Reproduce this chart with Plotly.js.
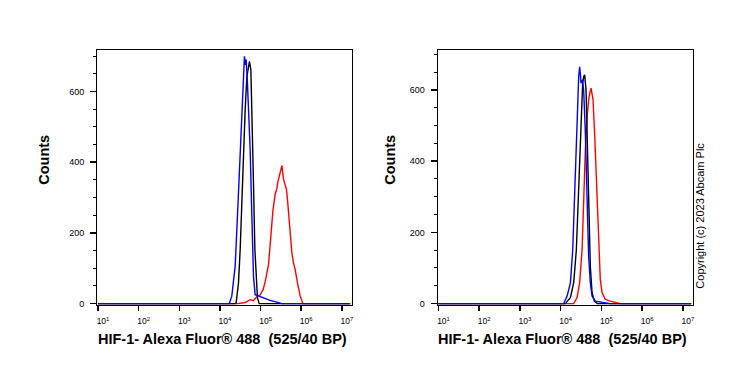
<!DOCTYPE html>
<html>
<head>
<meta charset="utf-8">
<script src="https://cdn.plot.ly/plotly-3.0.1.min.js"></script>
<style>html,body{margin:0;padding:0;background:#fff;}#chart{width:739px;height:370px;}</style>
</head>
<body>
<div id="chart"></div>
<script>
// ---- Left panel data (fluorescence intensity, counts) ----
const leftRedX   = [10, 2.80e4, 4.18e4, 5.55e4, 6.58e4, 7.80e4, 9.77e4, 1.16e5, 1.30e5, 1.57e5, 1.79e5, 2.01e5, 2.29e5, 2.52e5, 2.67e5, 3.04e5, 3.35e5, 3.67e5, 4.04e5, 4.35e5, 4.60e5, 5.15e5, 5.90e5, 6.46e5, 7.11e5, 8.11e5, 9.45e5, 1.10e6, 1.6e7];
const leftRedY   = [0, 0, 3, 11, 8, 17, 25, 40, 62, 110, 190, 262, 310, 325, 345, 367, 390, 352, 333, 322, 294, 228, 143, 115, 96, 58, 21, 0, 0];

const leftBlackX = [10, 2.40e4, 2.51e4, 2.86e4, 3.15e4, 3.46e4, 3.79e4, 4.18e4, 4.60e4, 5.04e4, 5.33e4, 5.77e4, 6.21e4, 6.69e4, 7.24e4, 7.80e4, 8.39e4, 9.25e4, 1.6e7];
const leftBlackY = [0, 0, 3, 58, 153, 294, 435, 548, 642, 675, 685, 661, 529, 341, 153, 58, 16, 0, 0];

const leftBlueX  = [10, 1.70e4, 1.96e4, 2.37e4, 2.70e4, 3.02e4, 3.39e4, 3.79e4, 4.01e4, 4.25e4, 4.42e4, 4.75e4, 5.15e4, 5.55e4, 6.11e4, 6.69e4, 7.36e4, 8.87e4, 1.18e5, 1.37e5, 1.72e5, 2.52e5, 3.35e5, 1.6e7];
const leftBlueY  = [0, 0, 21, 105, 247, 388, 529, 661, 699, 675, 690, 624, 530, 435, 247, 77, 25, 21, 16, 12, 9, 4, 0, 0];

// ---- Right panel data ----
const rightRedX   = [10, 2.09e4, 2.53e4, 2.93e4, 3.36e4, 3.67e4, 4.04e4, 4.45e4, 4.98e4, 5.57e4, 6.24e4, 6.82e4, 7.50e4, 8.07e4, 8.73e4, 9.40e4, 1.04e5, 1.24e5, 1.65e5, 2.40e5, 2.90e5, 1.6e7];
const rightRedY   = [0, 0, 17, 59, 152, 292, 432, 525, 581, 605, 572, 479, 357, 245, 133, 68, 31, 12, 7, 1, 0, 0];

const rightBlackX = [10, 1.31e4, 1.74e4, 2.09e4, 2.43e4, 2.68e4, 2.93e4, 3.23e4, 3.47e4, 3.67e4, 3.88e4, 4.20e4, 4.52e4, 4.86e4, 5.35e4, 5.89e4, 6.70e4, 7.94e4, 1.6e7];
const rightBlackY = [0, 0, 17, 59, 152, 292, 432, 553, 619, 637, 642, 600, 432, 245, 105, 31, 7, 0, 0];

const rightBlueX  = [10, 1.19e4, 1.44e4, 1.74e4, 1.98e4, 2.17e4, 2.30e4, 2.39e4, 2.53e4, 2.77e4, 2.93e4, 3.17e4, 3.41e4, 3.67e4, 4.04e4, 4.45e4, 4.86e4, 5.35e4, 5.89e4, 7.10e4, 9.40e4, 1.24e5, 1.65e5, 1.6e7];
const rightBlueY  = [0, 0, 21, 59, 152, 292, 395, 400, 525, 637, 665, 619, 628, 600, 479, 292, 133, 59, 21, 7, 5, 3, 0, 0];

// ---- Tick labels ----
const xTickVals = [1e1, 1e2, 1e3, 1e4, 1e5, 1e6, 1e7];
const xTickText = ['10<sup>1</sup>', '10<sup>2</sup>', '10<sup>3</sup>', '10<sup>4</sup>', '10<sup>5</sup>', '10<sup>6</sup>', '10<sup>7</sup>'];
const yTickVals = [0, 200, 400, 600];
const minorMultipliers = [2, 3, 4, 5, 6, 7, 8, 9];

// minor log tick positions (2..9 x each decade)
const xMinorVals = [];
xTickVals.forEach(d => minorMultipliers.forEach(m => xMinorVals.push(m * d)));

const xTitle = 'HIF-1- Alexa Fluor® 488  (525/40 BP)';
const yTitle = 'Counts';
const copyright = 'Copyright (c) 2023 Abcam Plc';

const lw = 1.4;
function tr(x, y, color, xa, ya) {
  return {x: x, y: y, type: 'scatter', mode: 'lines', line: {color: color, width: lw},
          xaxis: xa, yaxis: ya, hoverinfo: 'skip', showlegend: false};
}
const data = [
  tr(leftRedX, leftRedY, '#ff0000', 'x', 'y'),
  tr(leftBlackX, leftBlackY, '#000000', 'x', 'y'),
  tr(leftBlueX, leftBlueY, '#0000ff', 'x', 'y'),
  tr(rightRedX, rightRedY, '#ff0000', 'x2', 'y2'),
  tr(rightBlackX, rightBlackY, '#000000', 'x2', 'y2'),
  tr(rightBlueX, rightBlueY, '#0000ff', 'x2', 'y2')
];

const font = {family: 'Liberation Sans, Arial, sans-serif', color: '#000'};
const xRange = [0.975, 7.25];
function xax(dom, anchor) {
  return {
    domain: dom, anchor: anchor, type: 'log', range: xRange,
    tickmode: 'array', tickvals: xTickVals, ticktext: xTickText,
    showgrid: false, zeroline: false,
    showline: true, linecolor: '#000', linewidth: 1, mirror: true,
    ticks: 'outside', ticklen: 5, tickwidth: 1.5, tickcolor: '#000',
    tickfont: Object.assign({size: 8.5}, font), ticklabelstandoff: 3, ticklabelshift: 5,
    fixedrange: true
  };
}
// overlay axis carrying only the minor log ticks
function xMinorAx(over, anchor) {
  return {
    overlaying: over, anchor: anchor, side: 'bottom', type: 'log', range: xRange,
    tickmode: 'array', tickvals: xMinorVals, showticklabels: false,
    showgrid: false, zeroline: false, showline: false,
    ticks: 'outside', ticklen: 3, tickwidth: 1, tickcolor: '#000',
    fixedrange: true
  };
}
function yax(anchor, top) {
  return {
    domain: [0, 1], anchor: anchor, range: [-4, top],
    tickmode: 'array', tickvals: yTickVals, showgrid: false, zeroline: false,
    showline: true, linecolor: '#000', linewidth: 1, mirror: true,
    ticks: 'outside', ticklen: 6, tickwidth: 1.5, tickcolor: '#000',
    minor: {ticks: 'outside', ticklen: 3, tickwidth: 1, tickcolor: '#000', dtick: 50, tick0: 0, showgrid: false},
    tickfont: Object.assign({size: 9}, font), ticklabelstandoff: 4,
    fixedrange: true
  };
}

const titleFont = Object.assign({size: 14.5, weight: 'bold'}, font);
const layout = {
  width: 739, height: 370,
  margin: {l: 0, r: 0, t: 50, b: 64.5},
  paper_bgcolor: '#fff', plot_bgcolor: '#fff',
  xaxis: xax([97/739, 352/739], 'y'),
  yaxis: yax('x', 717),
  xaxis2: xax([437.5/739, 693/739], 'y2'),
  yaxis2: yax('x2', 712),
  xaxis3: xMinorAx('x', 'y'),
  xaxis4: xMinorAx('x2', 'y2'),
  annotations: [
    {text: yTitle, xref: 'paper', yref: 'paper', x: 44/739, y: (305.5-160)/255.5, textangle: -90,
     showarrow: false, font: titleFont, xanchor: 'center', yanchor: 'middle'},
    {text: yTitle, xref: 'paper', yref: 'paper', x: 390/739, y: (305.5-160)/255.5, textangle: -90,
     showarrow: false, font: titleFont, xanchor: 'center', yanchor: 'middle'},
    {text: xTitle, xref: 'paper', yref: 'paper', x: 222/739, y: (305.5-340)/255.5,
     showarrow: false, font: titleFont, xanchor: 'center', yanchor: 'middle'},
    {text: xTitle, xref: 'paper', yref: 'paper', x: 562/739, y: (305.5-340)/255.5,
     showarrow: false, font: titleFont, xanchor: 'center', yanchor: 'middle'},
    {text: copyright, xref: 'paper', yref: 'paper', x: 700.5/739, y: (305.5-216.5)/255.5, textangle: -90,
     showarrow: false, font: Object.assign({size: 11}, font), xanchor: 'center', yanchor: 'middle'}
  ]
};

Plotly.newPlot('chart', data, layout, {displayModeBar: false, staticPlot: true});
</script>
</body>
</html>
